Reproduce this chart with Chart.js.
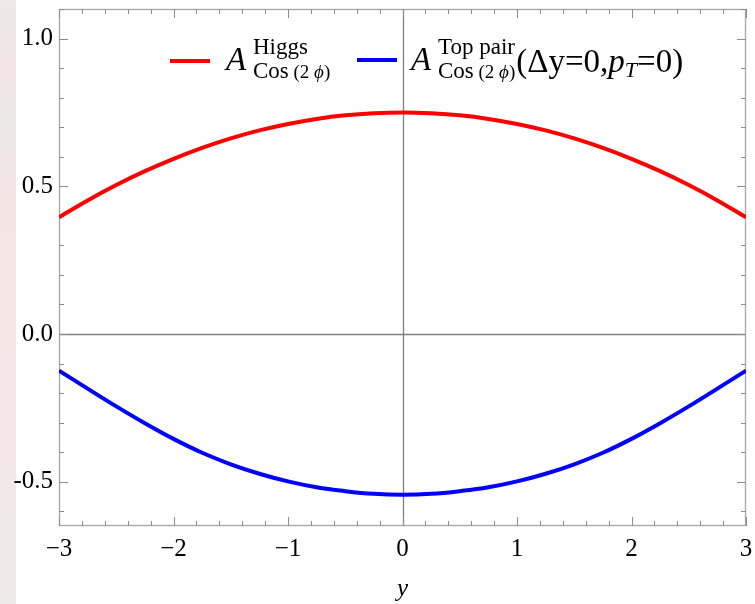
<!DOCTYPE html>
<html>
<head>
<meta charset="utf-8">
<script src="https://cdn.jsdelivr.net/npm/chart.js@4.4.1/dist/chart.umd.min.js"></script>
<style>
  html, body { margin: 0; padding: 0; background: #ffffff; }
  #wrap { position: relative; width: 755px; height: 604px; overflow: hidden; }
  #edge {
    position: absolute; left: 0; top: 0; width: 16px; height: 604px;
    background: linear-gradient(to bottom, #eee8e8 0%, #f1e4e4 12%, #ebe8e6 20%, #f4e4e4 35%, #f6e7e7 55%, #f4e8e8 75%, #eee9e9 100%);
  }
  #plot { position: absolute; left: 0; top: 0; }
</style>
</head>
<body>
<div id="wrap">
  <div id="edge"></div>
  <canvas id="plot" width="755" height="604"></canvas>
</div>
<script>
// Rapidity grid and the two cos(2 phi) asymmetries
const rapidity = [-3, -2.75, -2.5, -2.25, -2, -1.75, -1.5, -1.25, -1, -0.75, -0.5, -0.25, 0,
                  0.25, 0.5, 0.75, 1, 1.25, 1.5, 1.75, 2, 2.25, 2.5, 2.75, 3];
const higgsAsym = [0.395, 0.452, 0.504, 0.551, 0.593, 0.630, 0.662, 0.689, 0.711, 0.728, 0.740, 0.747, 0.750,
                   0.747, 0.740, 0.728, 0.711, 0.689, 0.662, 0.630, 0.593, 0.551, 0.504, 0.452, 0.395];
const topPairAsym = [-0.124, -0.185, -0.245, -0.302, -0.355, -0.402, -0.441, -0.473, -0.499, -0.519, -0.532, -0.541, -0.544,
                     -0.541, -0.532, -0.519, -0.499, -0.473, -0.441, -0.402, -0.355, -0.302, -0.245, -0.185, -0.124];

// Axis ticks
const xTickValues = [-3, -2, -1, 0, 1, 2, 3];
const xTickLabels = ['\u22123', '\u22122', '\u22121', '0', '1', '2', '3'];
const yTickValues = [-0.5, 0, 0.5, 1.0];
const yTickLabels = ['-0.5', '0.0', '0.5', '1.0'];

const SERIF = "'Liberation Serif', 'DejaVu Serif', serif";

function pts(ys) { return rapidity.map((x, i) => ({ x: x, y: ys[i] })); }

// Frame, zero axes and inward tick marks on all four sides
const framePlugin = {
  id: 'frame',
  beforeDatasetsDraw(chart) {
    const { ctx, chartArea: a, scales: { x, y } } = chart;
    ctx.save();
    // zero axes
    ctx.strokeStyle = '#7f7f7f';
    ctx.lineWidth = 1.3;
    const x0 = Math.round(x.getPixelForValue(0)) + 0.5;
    const y0 = Math.round(y.getPixelForValue(0)) + 0.5;
    ctx.beginPath();
    ctx.moveTo(x0, a.top); ctx.lineTo(x0, a.bottom);
    ctx.moveTo(a.left, y0); ctx.lineTo(a.right, y0);
    ctx.stroke();
    // frame
    ctx.strokeStyle = '#a6a6a6';
    ctx.lineWidth = 1.3;
    ctx.strokeRect(a.left + 0.5, a.top + 0.5, a.right - a.left - 1, a.bottom - a.top - 1);
    // ticks
    ctx.strokeStyle = '#8c8c8c';
    ctx.lineWidth = 1;
    ctx.beginPath();
    for (let i = -30; i <= 30; i += 2) {
      const v = i / 10;
      const px = Math.round(x.getPixelForValue(v)) + 0.5;
      const len = (i % 10 === 0) ? 9 : 5;
      ctx.moveTo(px, a.bottom); ctx.lineTo(px, a.bottom - len);
      ctx.moveTo(px, a.top); ctx.lineTo(px, a.top + len);
    }
    for (let i = -6; i <= 11; i += 1) {
      const v = i / 10;
      const py = Math.round(y.getPixelForValue(v)) + 0.5;
      const len = (i % 5 === 0) ? 9 : 5;
      ctx.moveTo(a.left, py); ctx.lineTo(a.left + len, py);
      ctx.moveTo(a.right, py); ctx.lineTo(a.right - len, py);
    }
    ctx.stroke();
    ctx.restore();
  }
};

// Legend with super- and subscripted labels
function run(ctx, parts, x, baseline) {
  for (const p of parts) {
    ctx.font = p.f;
    ctx.fillText(p.t, x, baseline + (p.dy || 0));
    x += ctx.measureText(p.t).width;
  }
  return x;
}
const legendPlugin = {
  id: 'mathLegend',
  afterDraw(chart) {
    const { ctx, chartArea: a } = chart;
    const L = a.left, T = a.top;
    ctx.save();
    ctx.fillStyle = '#000';
    ctx.textBaseline = 'alphabetic';
    ctx.lineWidth = 4;
    const big = 'italic 33px ' + SERIF;
    const mid = '23px ' + SERIF;
    const small = '19px ' + SERIF;
    const smallIt = 'italic 19px ' + SERIF;
    const entries = [
      { color: '#ff0000', lx: 111, ly: 52, ax: 167, sup: 'Higgs', tail: false },
      { color: '#0000ff', lx: 298, ly: 51, ax: 352, sup: 'Top pair', tail: true }
    ];
    for (const e of entries) {
      ctx.strokeStyle = e.color;
      ctx.beginPath();
      ctx.moveTo(L + e.lx, T + e.ly); ctx.lineTo(L + e.lx + 40, T + e.ly);
      ctx.stroke();
      ctx.font = big;
      ctx.fillText('A', L + e.ax, T + 61);
      const sx = L + e.ax + 27;
      ctx.font = mid;
      ctx.fillText(e.sup, sx, T + 45);
      const endSub = run(ctx, [
        { t: 'Cos', f: mid },
        { t: ' (2 ', f: small },
        { t: '\u03D5', f: smallIt },
        { t: ')', f: small }
      ], sx, T + 69);
      if (e.tail) {
        const bigR = '33px ' + SERIF;
        const bigI = 'italic 33px ' + SERIF;
        run(ctx, [
          { t: '(\u0394y=0,', f: bigR },
          { t: 'p', f: bigI },
          { t: 'T', f: 'italic 22px ' + SERIF, dy: 5 },
          { t: '=0)', f: bigR }
        ], endSub + 1, T + 63);
      }
    }
    ctx.restore();
  }
};

new Chart(document.getElementById('plot'), {
  type: 'line',
  data: {
    datasets: [
      { label: 'Higgs', data: pts(higgsAsym), borderColor: '#ff0000', borderWidth: 4,
        pointRadius: 0, tension: 0.4, fill: false },
      { label: 'Top pair', data: pts(topPairAsym), borderColor: '#0000ff', borderWidth: 4,
        pointRadius: 0, tension: 0.4, fill: false }
    ]
  },
  options: {
    responsive: false,
    animation: false,
    devicePixelRatio: 1,
    layout: { padding: { left: 0, right: 9, top: 9, bottom: 0 } },
    plugins: { legend: { display: false }, tooltip: { enabled: false } },
    scales: {
      x: {
        type: 'linear', min: -3, max: 3,
        grid: { display: false, drawTicks: false },
        border: { display: false },
        afterBuildTicks(s) { s.ticks = xTickValues.map(v => ({ value: v })); },
        afterFit(s) { s.height = 78; s.paddingLeft = 0; s.paddingRight = 0; },
        ticks: {
          autoSkip: false, maxRotation: 0, padding: 8, color: '#000',
          font: { family: SERIF, size: 25 },
          callback: (v) => xTickLabels[xTickValues.indexOf(v)]
        },
        title: { display: true, text: 'y', color: '#000',
                 font: { family: SERIF, size: 25, style: 'italic' }, padding: { top: 0, bottom: 0 } }
      },
      y: {
        type: 'linear', min: -0.65, max: 1.1,
        grid: { display: false, drawTicks: false },
        border: { display: false },
        afterBuildTicks(s) { s.ticks = yTickValues.map(v => ({ value: v })); },
        afterFit(s) { s.width = 59; s.paddingTop = 0; s.paddingBottom = 0; },
        ticks: {
          autoSkip: false, padding: 6, color: '#000',
          font: { family: SERIF, size: 25 },
          callback: (v) => yTickLabels[yTickValues.indexOf(v)]
        }
      }
    }
  },
  plugins: [framePlugin, legendPlugin]
});
</script>
</body>
</html>
